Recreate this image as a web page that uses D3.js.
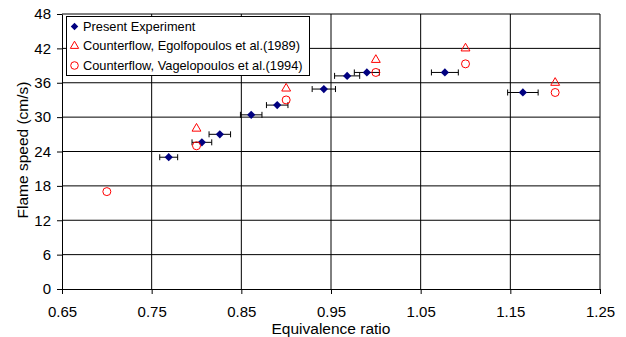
<!DOCTYPE html>
<html>
<head>
<meta charset="utf-8">
<script src="https://cdn.jsdelivr.net/npm/d3@7"></script>
<style>
  body { margin: 0; background: #fff; }
  text { font-family: "Liberation Sans", Arial, sans-serif; }
</style>
</head>
<body>
<div class="canvas"></div>
<script>
// present experiment: phi, speed, half-width of error bar
const presentPhi = [0.769, 0.806, 0.826, 0.861, 0.890, 0.942, 0.968, 0.990, 1.077, 1.164];
const presentSpeed = [23.0, 25.6, 27.0, 30.4, 32.1, 34.9, 37.2, 37.8, 37.8, 34.3];
const presentErr = [0.010, 0.011, 0.012, 0.012, 0.012, 0.013, 0.014, 0.014, 0.015, 0.017];

const egolfPhi = [0.8, 0.9, 1.0, 1.1, 1.2];
const egolfSpeed = [28, 35, 40, 42, 36];

const vageloPhi = [0.7, 0.8, 0.9, 1.0, 1.1, 1.2];
const vageloSpeed = [17, 25, 33, 37.8, 39.3, 34.3];

const xTicks = [0.65, 0.75, 0.85, 0.95, 1.05, 1.15, 1.25];
const yTicks = [0, 6, 12, 18, 24, 30, 36, 42, 48];

const legendLabels = [
    'Present Experiment',
    'Counterflow, Egolfopoulos et al.(1989)',
    'Counterflow, Vagelopoulos et al.(1994)'
];

const dims = { width: 626, height: 337 };
const margin = { left: 62, right: 26, top: 14, bottom: 48 };

const svg = d3.select('.canvas')
    .append('svg')
    .attr('width', dims.width)
    .attr('height', dims.height)
;

const x = d3.scaleLinear()
    .domain([0.65, 1.25])
    .range([margin.left, dims.width - margin.right]);

const y = d3.scaleLinear()
    .domain([0, 48])
    .range([dims.height - margin.bottom, margin.top]);

// grid
const grid = svg.append('g').attr('stroke', '#000').attr('stroke-width', 1);
grid.selectAll('line.v')
    .data(xTicks.slice(1))
    .enter().append('line')
    .attr('class', 'v')
    .attr('x1', d => x(d)).attr('x2', d => x(d))
    .attr('y1', y(0)).attr('y2', y(48));
grid.selectAll('line.h')
    .data(yTicks.slice(1))
    .enter().append('line')
    .attr('class', 'h')
    .attr('x1', x(0.65)).attr('x2', x(1.25))
    .attr('y1', d => y(d)).attr('y2', d => y(d));

// axes
const xAxis = d3.axisBottom(x)
    .tickValues(xTicks)
    .tickFormat(d3.format('.2f'))
    .tickSize(5)
    .tickSizeOuter(0);
const yAxis = d3.axisLeft(y)
    .tickValues(yTicks)
    .tickSize(5)
    .tickSizeOuter(0);

const gx = svg.append('g')
    .attr('transform', `translate(0, ${y(0)})`)
    .call(xAxis);
const gy = svg.append('g')
    .attr('transform', `translate(${x(0.65)}, 0)`)
    .call(yAxis);

[gx, gy].forEach(g => {
    g.selectAll('path, line').attr('stroke', '#000');
    g.selectAll('text')
        .attr('fill', '#000')
        .style('font-size', '15px');
});
gx.selectAll('text').attr('y', 17).attr('dy', '0.71em');
gy.selectAll('text').attr('x', -11);

svg.append('text')
    .attr('x', (x(0.65) + x(1.25)) / 2)
    .attr('y', 334)
    .attr('text-anchor', 'middle')
    .style('font-size', '15.5px')
    .text('Equivalence ratio');

svg.append('text')
    .attr('transform', `translate(28, 150) rotate(-90)`)
    .attr('text-anchor', 'middle')
    .style('font-size', '15.5px')
    .text('Flame speed (cm/s)');

const plot = svg.append('g');

// square turned 45 degrees, like the reference diamond
const diamond = d3.symbol().type(d3.symbolSquare).size(34);
const triangle = d3.symbol().type(d3.symbolTriangle).size(34);

// error bars
const present = presentPhi.map((p, i) => ({ phi: p, v: presentSpeed[i], e: presentErr[i] }));
const eb = plot.selectAll('g.err')
    .data(present)
    .enter().append('g')
    .attr('class', 'err')
    .attr('stroke', '#000')
    .attr('stroke-width', 1);
eb.append('line')
    .attr('x1', d => x(d.phi - d.e)).attr('x2', d => x(d.phi + d.e))
    .attr('y1', d => y(d.v)).attr('y2', d => y(d.v));
eb.append('line')
    .attr('x1', d => x(d.phi - d.e)).attr('x2', d => x(d.phi - d.e))
    .attr('y1', d => y(d.v) - 3).attr('y2', d => y(d.v) + 3);
eb.append('line')
    .attr('x1', d => x(d.phi + d.e)).attr('x2', d => x(d.phi + d.e))
    .attr('y1', d => y(d.v) - 3).attr('y2', d => y(d.v) + 3);

plot.selectAll('path.present')
    .data(present)
    .enter().append('path')
    .attr('class', 'present')
    .attr('d', diamond)
    .attr('transform', d => `translate(${x(d.phi)}, ${y(d.v)}) rotate(45)`)
    .attr('fill', '#000080');

plot.selectAll('path.egolf')
    .data(egolfPhi.map((p, i) => ({ phi: p, v: egolfSpeed[i] })))
    .enter().append('path')
    .attr('class', 'egolf')
    .attr('d', triangle)
    .attr('transform', d => `translate(${x(d.phi)}, ${y(d.v)})`)
    .attr('fill', 'none')
    .attr('stroke', '#ff0000')
    .attr('stroke-width', 1);

plot.selectAll('circle.vagelo')
    .data(vageloPhi.map((p, i) => ({ phi: p, v: vageloSpeed[i] })))
    .enter().append('circle')
    .attr('class', 'vagelo')
    .attr('cx', d => x(d.phi))
    .attr('cy', d => y(d.v))
    .attr('r', 4)
    .attr('fill', 'none')
    .attr('stroke', '#ff0000')
    .attr('stroke-width', 1);

// legend
const legendGroup = svg.append('g').attr('transform', 'translate(66.5, 16.5)');
legendGroup.append('rect')
    .attr('width', 243)
    .attr('height', 59)
    .attr('fill', '#fff')
    .attr('stroke', '#000');

const items = legendGroup.selectAll('g.item')
    .data(legendLabels)
    .enter().append('g')
    .attr('class', 'item')
    .attr('transform', (d, i) => `translate(8, ${10 + i * 19.5})`);

items.append('text')
    .attr('x', 8.5)
    .attr('dy', '0.35em')
    .style('font-size', '12.8px')
    .text(d => d);

items.filter((d, i) => i === 0).append('path')
    .attr('d', d3.symbol().type(d3.symbolSquare).size(28))
    .attr('transform', 'rotate(45)')
    .attr('fill', '#000080');
items.filter((d, i) => i === 1).append('path')
    .attr('d', d3.symbol().type(d3.symbolTriangle).size(30))
    .attr('fill', 'none')
    .attr('stroke', '#ff0000');
items.filter((d, i) => i === 2).append('circle')
    .attr('r', 3.8)
    .attr('fill', 'none')
    .attr('stroke', '#ff0000');
</script>
</body>
</html>
